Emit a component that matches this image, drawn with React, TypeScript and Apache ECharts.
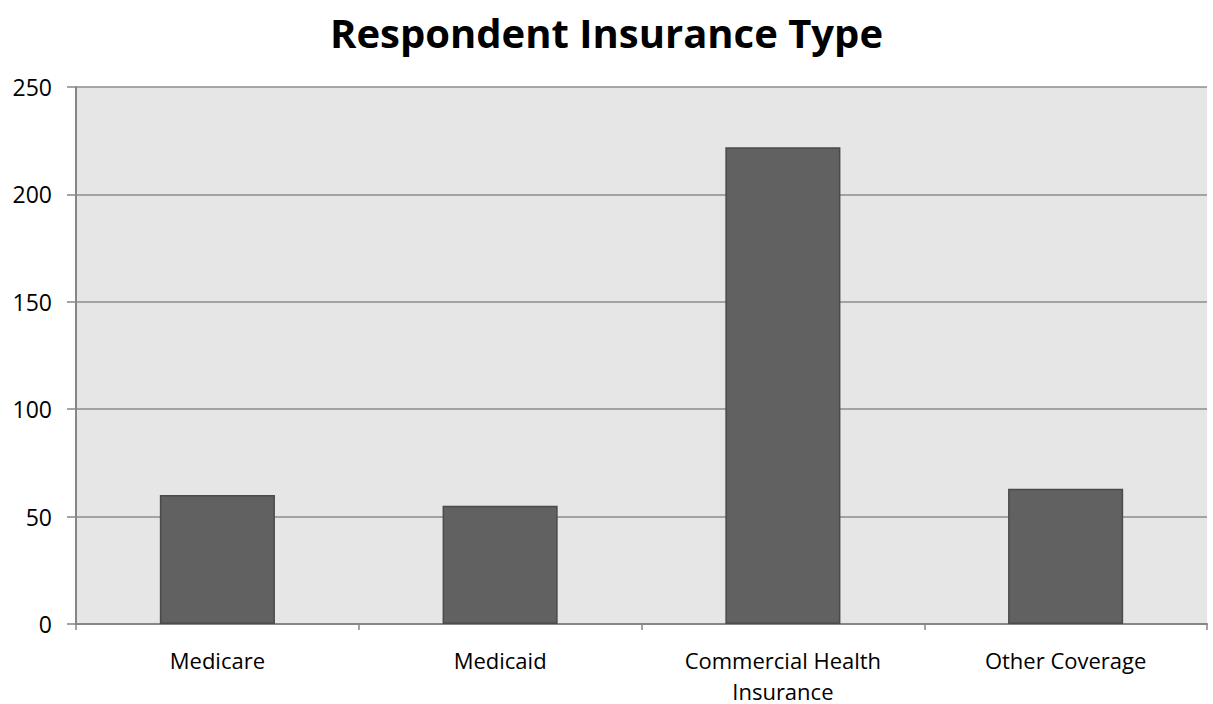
import React, { useEffect, useRef } from "react";
import * as echarts from "echarts";

const categories = ["Medicare", "Medicaid", "Commercial Health\nInsurance", "Other Coverage"];
const respondents = [60, 55, 222, 63];
const yTicks = { min: 0, max: 250, interval: 50 };
const titleText = "Respondent Insurance Type";

export default function App() {
  const ref = useRef<HTMLDivElement>(null);

  useEffect(() => {
    if (!ref.current) return;
    const chart = echarts.init(ref.current, undefined, { renderer: "svg" });
    chart.setOption({
      animation: false,
      backgroundColor: "#ffffff",
      title: {
        text: titleText,
        left: "center",
        top: 7,
        textStyle: {
          fontFamily: "Open Sans",
          fontWeight: "bold",
          fontSize: 40,
          color: "#000000",
        },
      },
      grid: {
        left: 76,
        right: 6,
        top: 87,
        bottom: 80,
        outerBoundsMode: "none",
        containLabel: false,
        show: true,
        backgroundColor: "#e6e6e6",
        borderWidth: 0,
      },
      xAxis: {
        type: "category",
        data: categories,
        axisLine: { show: true, lineStyle: { color: "#868686", width: 2 } },
        axisTick: { show: true, alignWithLabel: false, length: 6, lineStyle: { color: "#868686", width: 1.5 } },
        axisLabel: {
          color: "#000000",
          fontFamily: "Open Sans",
          fontSize: 22,
          margin: 20,
          lineHeight: 31,
          interval: 0,
        },
      },
      yAxis: {
        type: "value",
        min: yTicks.min,
        max: yTicks.max,
        interval: yTicks.interval,
        axisLine: { show: true, lineStyle: { color: "#868686", width: 2 } },
        axisTick: { show: true, length: 9, lineStyle: { color: "#868686", width: 1.5 } },
        axisLabel: {
          color: "#000000",
          fontFamily: "Open Sans",
          fontSize: 23,
          margin: 24,
        },
        splitLine: { show: true, lineStyle: { color: "#8c8c8c", width: 1.5 } },
      },
      series: [
        {
          type: "bar",
          data: respondents,
          barWidth: "40.7%",
          itemStyle: {
            color: "#616161",
            borderColor: "#4a4a4a",
            borderWidth: 1.5,
          },
        },
      ],
    });
    return () => chart.dispose();
  }, []);

  return (
    <div
      ref={ref}
      style={{ position: "fixed", left: 0, top: 0, width: 1213, height: 704 }}
    />
  );
}
